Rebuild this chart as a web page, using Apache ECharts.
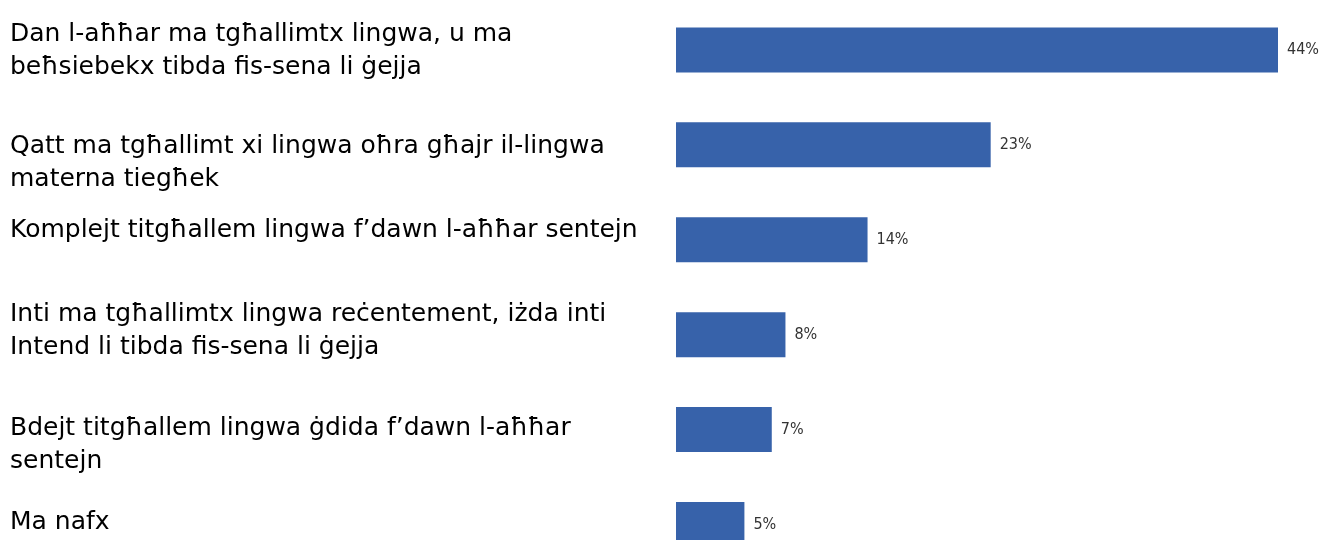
<!DOCTYPE html>
<html>
<head>
<meta charset="utf-8">
<script src="https://cdn.jsdelivr.net/npm/echarts@6/dist/echarts.min.js"></script>
<style>
html,body{margin:0;padding:0;background:#fff;}
#chart{width:1319px;height:540px;}
</style>
</head>
<body>
<div id="chart"></div>
<script>
const categories = [
  "Dan l-aħħar ma tgħallimtx lingwa, u ma\nbeħsiebekx tibda fis-sena li ġejja",
  "Qatt ma tgħallimt xi lingwa oħra għajr il-lingwa\nmaterna tiegħek",
  "Komplejt titgħallem lingwa f’dawn l-aħħar sentejn",
  "Inti ma tgħallimtx lingwa reċentement, iżda inti\nIntend li tibda fis-sena li ġejja",
  "Bdejt titgħallem lingwa ġdida f’dawn l-aħħar\nsentejn",
  "Ma nafx"
];
const values = [44, 23, 14, 8, 7, 5];

// vertical nudge of each category label (layout only, px; + = down)
const labelNudge = [1, 18, -9, -4, 15, -2];

const rich = {};
labelNudge.forEach((d, i) => {
  rich['g' + i] = { fontSize: 1, lineHeight: Math.max(1, Math.abs(d) * 2) };
});

const chart = echarts.init(document.getElementById('chart'), null, { renderer: 'canvas' });
chart.setOption({
  animation: false,
  backgroundColor: '#ffffff',
  grid: { left: 676, width: 602, top: 2.5, height: 569.4, containLabel: false, outerBoundsMode: 'none' },
  xAxis: {
    type: 'value', min: 0, max: 44, show: false
  },
  yAxis: {
    type: 'category',
    inverse: true,
    data: categories,
    axisLine: { show: false },
    axisTick: { show: false },
    splitLine: { show: false },
    axisLabel: {
      align: 'left',
      margin: 666,
      color: '#000000',
      fontFamily: 'DejaVu Sans, sans-serif',
      fontSize: 25,
      lineHeight: 33,
      verticalAlign: 'middle',
      rich: rich,
      formatter: function (value, index) {
        const d = labelNudge[index];
        const gap = '{g' + index + '| }';
        if (d > 0) return gap + '\n' + value;
        if (d < 0) return value + '\n' + gap;
        return value;
      }
    }
  },
  series: [{
    type: 'bar',
    data: values,
    barWidth: 45,
    itemStyle: { color: '#3762AA' },
    label: {
      show: true,
      position: 'right',
      distance: 9,
      formatter: '{c}%',
      color: '#333333',
      fontFamily: 'DejaVu Sans Condensed, sans-serif',
      fontSize: 16
    }
  }]
});
</script>
</body>
</html>
